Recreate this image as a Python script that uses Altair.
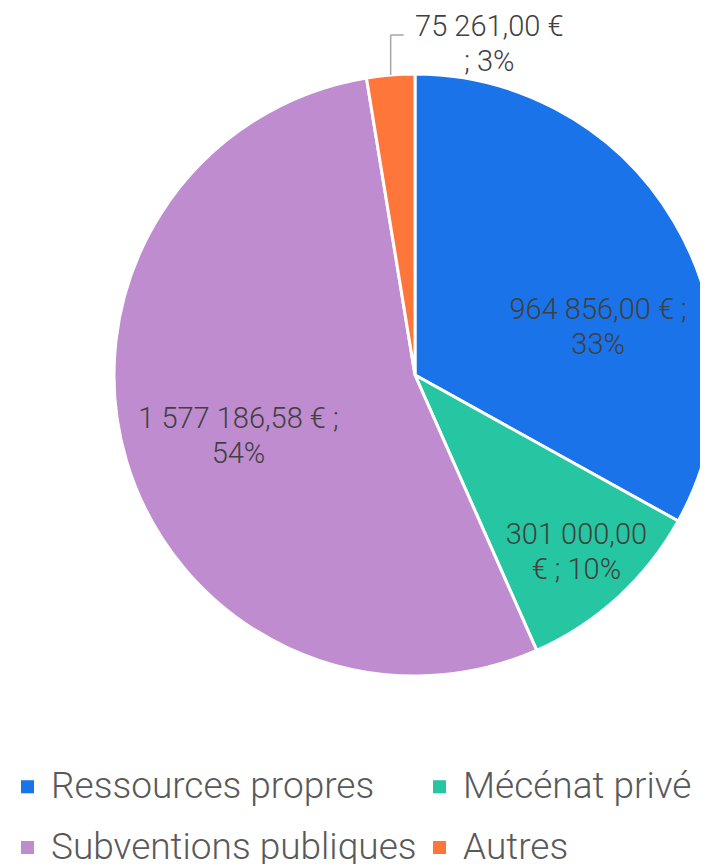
import math
import altair as alt
import pandas as pd

categories = ["Ressources propres", "Mécénat privé", "Subventions publiques", "Autres"]
values = [964856.00, 301000.00, 1577186.58, 75261.00]
label_texts = [
    "964 856,00 € ;\n33%",
    "301 000,00\n€ ; 10%",
    "1 577 186,58 € ;\n54%",
    "75 261,00 €\n; 3%",
]
colors = ["#1a73e8", "#26c6a2", "#bf8ccf", "#ff763b"]

df = pd.DataFrame({
    "cat": categories,
    "value": values,
    "label": label_texts,
    "order": list(range(len(categories))),
})

FONT = "Roboto"
CX, CY, R = 407, 367, 301

base = alt.Chart(df).encode(
    theta=alt.Theta("value:Q", stack=True),
    order=alt.Order("order:Q"),
)

color_scale = alt.Scale(domain=categories, range=colors)

pie = base.mark_arc(outerRadius=R, stroke="white", strokeWidth=3).encode(
    x=alt.value(CX),
    y=alt.value(CY),
    color=alt.Color(
        "cat:N",
        scale=color_scale,
        sort=categories,
        legend=alt.Legend(
            title=None,
            orient="none",
            direction="horizontal",
            legendX=1,
            legendY=760,
            columns=2,
            symbolType="square",
            symbolSize=170,
            symbolStrokeWidth=0,
            labelFont=FONT,
            labelFontWeight=300,
            labelFontSize=37,
            labelColor="#595959",
            labelOffset=5,
            labelLimit=500,
            rowPadding=23,
            columnPadding=4,
        ),
    ),
)

label_style = [
    # (radius, dx, dy)
    (180, 28, 26),
    (180, 40, 27),
    (180, -4, -7),
    (330, 101, -19),
]

layers = [pie]
for i, cat in enumerate(categories):
    rad, dx, dy = label_style[i]
    layers.append(
        base.mark_text(
            radius=rad,
            dx=dx,
            dy=dy,
            font=FONT,
            fontWeight=300,
            fontSize=29,
            lineHeight=35,
            lineBreak="\n",
            color="#404040",
            align="center",
            baseline="middle",
        ).encode(
            x=alt.value(CX),
            y=alt.value(CY),
            text="label:N",
            opacity=alt.condition(alt.datum.cat == cat, alt.value(1), alt.value(0)),
        )
    )

# leader line for the small slice (from slice edge at mid-angle)
total = sum(values)
mid = (sum(values[:3]) + values[3] / 2) / total * 2 * math.pi
ex = CX + R * math.sin(mid)
ey = CY - R * math.cos(mid)
leader_top = 27
leader_v = alt.Chart(df.head(1)).mark_rule(color="#a6a6a6", strokeWidth=1.5).encode(
    x=alt.value(ex), y=alt.value(ey), y2=alt.value(leader_top)
)
leader_h = alt.Chart(df.head(1)).mark_rule(color="#a6a6a6", strokeWidth=1.5).encode(
    x=alt.value(ex), x2=alt.value(ex + 13), y=alt.value(leader_top)
)
layers += [leader_v, leader_h]

chart = alt.layer(*layers).properties(
    width=692,
    height=856,
    autosize=alt.AutoSizeParams(type="none"),
    padding=0,
).configure_view(stroke=None)

chart.save("out.html", embed_options={"renderer": "svg", "actions": False})
